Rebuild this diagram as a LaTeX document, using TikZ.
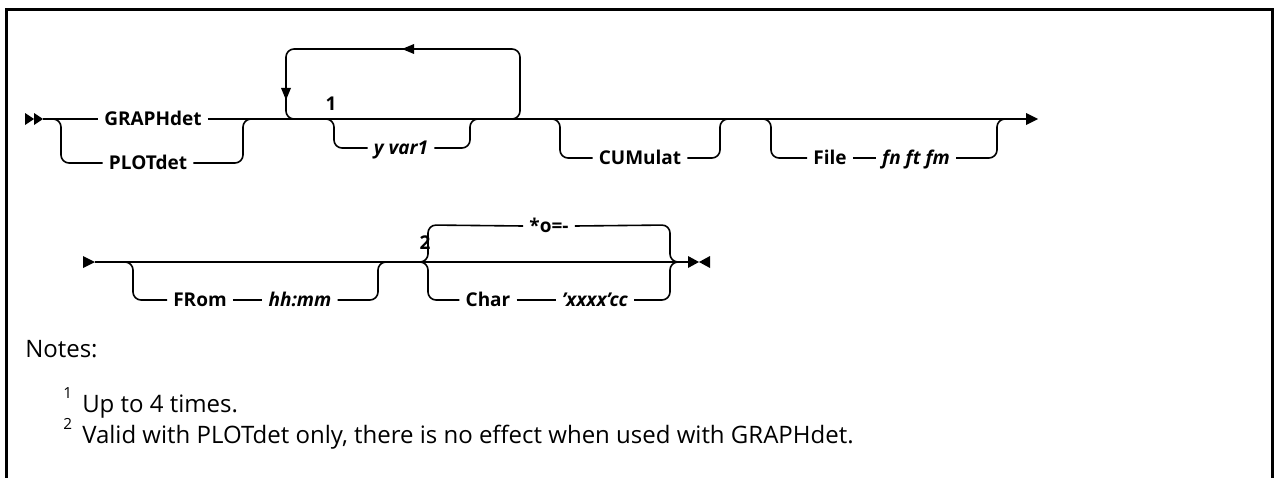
\documentclass[tikz,border=0pt]{standalone}
\usepackage{fontspec}
\setmainfont{Open Sans}
\begin{document}
\begin{tikzpicture}[x=0.75pt,y=-0.75pt,
  line/.style={line width=1.2pt, rounded corners=6pt},
  kw/.style={font=\fontsize{14.25}{16}\selectfont\bfseries, inner xsep=4.5pt, inner ysep=0pt, text height=10.2pt, text depth=0pt, anchor=center},
  var/.style={font=\fontsize{14.25}{16}\selectfont\bfseries\itshape, inner xsep=4.5pt, inner ysep=0pt, text height=10.2pt, text depth=0pt, anchor=center},
  note/.style={font=\fontsize{18}{22}\selectfont, inner sep=0pt, anchor=base west},
  sup/.style={font=\fontsize{11.5}{12}\selectfont, inner sep=0pt, anchor=base west},
  tip/.style={fill=black}]
\useasboundingbox (0,0) rectangle (1274,478);
% frame
\draw[line width=2pt] (6.3,478) -- (6.3,9.7) -- (1272.5,9.7) -- (1272.5,478);

% ---------- row 1 ----------
\coordinate (r1s) at (43,119);
\coordinate (r1e) at (1026,119);
\fill[tip] (25,113) -- (34,119) -- (25,125) -- cycle;
\fill[tip] (34,113) -- (43,119) -- (34,125) -- cycle;
\fill[tip] (1026,113) -- (1038,119) -- (1026,125) -- cycle;

\node[kw] (graph) at (153,119) {GRAPHdet};
\node[kw] (plot) at (148,163) {PLOTdet};
\draw[line] (r1s) -- (graph.west);
\draw[line] (graph.east) -- (r1e);
\draw[line] (51,119) -- (61,119) -- (61,163) -- (plot.west);
\draw[line] (plot.east) -- (243,163) -- (243,119) -- (253,119);

% repeat loop
\draw[line] (500,119) -- (520,119) -- (520,49) -- (286,49) -- (286,119) -- (296,119);
\fill[tip] (281,88) -- (291,88) -- (286,100) -- cycle;
\fill[tip] (414,44) -- (414,54) -- (402,49) -- cycle;
\node[kw, inner xsep=0pt] (n1) at (331,104) {1};

\node[var] (yvar) at (401,148) {y var1};
\draw[line] (324,119) -- (334,119) -- (334,148) -- (yvar.west);
\draw[line] (yvar.east) -- (470,148) -- (470,119) -- (480,119);

\node[kw] (cum) at (640,158) {CUMulat};
\draw[line] (550,119) -- (560,119) -- (560,158) -- (cum.west);
\draw[line] (cum.east) -- (720,158) -- (720,119) -- (730,119);

\node[kw] (file) at (830,158) {File};
\node[var] (fn) at (916,158) {fn ft fm};
\draw[line] (761,119) -- (771,119) -- (771,158) -- (file.west);
\draw[line] (file.east) -- (fn.west);
\draw[line] (fn.east) -- (997,158) -- (997,119) -- (1007,119);

% ---------- row 2 ----------
\coordinate (r2s) at (95,262);
\coordinate (r2e) at (688,262);
\fill[tip] (83,256) -- (95,262) -- (83,268) -- cycle;
\draw[line] (r2s) -- (r2e);
\fill[tip] (688,256) -- (699,262) -- (688,268) -- cycle;
\fill[tip] (710,256) -- (699,262) -- (710,268) -- cycle;

\node[kw] (from) at (200,300) {FRom};
\node[var] (hh) at (300,300) {hh:mm};
\draw[line] (123,262) -- (133,262) -- (133,300) -- (from.west);
\draw[line] (from.east) -- (hh.west);
\draw[line] (hh.east) -- (378,300) -- (378,262) -- (388,262);

\node[kw, inner xsep=0pt] (n2) at (425,243) {2};
\node[kw] (star) at (549,226) {*o=-};
\draw[line] (420,262) -- (428,262) -- (428,225) -- (star.west);
\draw[line] (star.east) -- (670,225) -- (670,262) -- (678,262);

\node[kw] (char) at (488,300) {Char};
\node[var] (xx) at (595,300) {'xxxx'cc};
\draw[line] (420,262) -- (428,262) -- (428,300) -- (char.west);
\draw[line] (char.east) -- (xx.west);
\draw[line] (xx.east) -- (670,300) -- (670,262) -- (678,262);

% ---------- notes ----------
\node[note] (notes) at (25,357) {Notes:};
\node[sup] (s1) at (63,398) {1};
\node[note] (t1) at (82,412) {Up to 4 times.};
\node[sup] (s2) at (63,429) {2};
\node[note] (t2) at (82,443) {Valid with PLOTdet only, there is no effect when used with GRAPHdet.};
\end{tikzpicture}
\end{document}
